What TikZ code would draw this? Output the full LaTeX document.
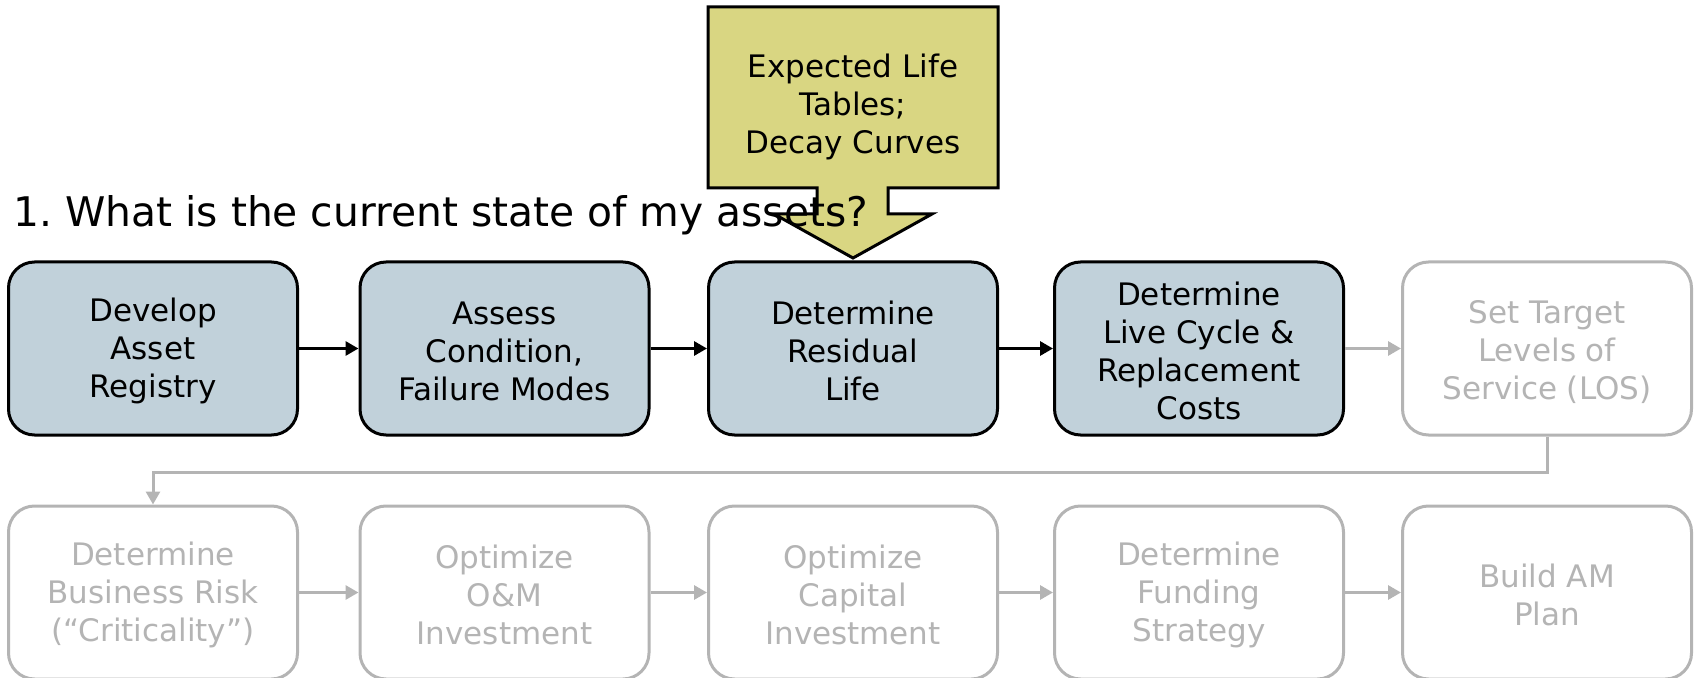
\documentclass[tikz,border=0pt]{standalone}
\usepackage{fontspec}
\setmainfont{DejaVu Sans}
\usetikzlibrary{arrows.meta}
\definecolor{boxfill}{HTML}{C1D1DA}
\definecolor{notefill}{HTML}{D9D682}
\definecolor{faded}{HTML}{B4B4B4}
% strut that lowers a centred multi-line label a little
\newcommand{\lowerstrut}{\rule{0pt}{14.6pt}}
\begin{document}
\begin{tikzpicture}[x=0.5pt,y=-0.5pt,
  basebox/.style={rounded corners=13pt, minimum width=144.5pt, minimum height=86.5pt,
    line width=1.5pt, align=center, inner sep=0pt,
    font=\fontsize{15.5}{19}\selectfont},
  donebox/.style={basebox, draw=black, fill=boxfill, text=black},
  todobox/.style={basebox, draw=faded, fill=white, text=faded},
  blackarrow/.style={line width=1.5pt, draw=black, -{Triangle[length=6.5pt,width=7pt]}},
  grayarrow/.style={line width=1.5pt, draw=faded, -{Triangle[length=6.5pt,width=7pt]}},
  notebox/.style={line width=1.5pt, draw=black, fill=notefill, line join=miter}
]
\useasboundingbox (0,0) rectangle (1696,678);
\clip (0,0) rectangle (1696,678);

% input callout pointing at the residual-life step
\draw[notebox] (708,7) -- (998,7) -- (998,188) -- (888,188) -- (888,214) -- (932,214)
  -- (853,258) -- (774,214) -- (817,214) -- (817,188) -- (708,188) -- cycle;
\node[align=center, font=\fontsize{15.5}{19}\selectfont] (note) at (853,106.5)
  {Expected Life\\Tables;\\Decay Curves};

% question heading
\node[anchor=base west, inner sep=0pt, font=\fontsize{20.4}{24}\selectfont] (title) at (13,227)
  {\frenchspacing 1. What is the current state of my assets?};

% first row: current-state steps
\node[donebox] (b1) at (153,348.5) {\lowerstrut Develop\\Asset\\Registry};
\node[donebox] (b2) at (504.5,348.5) {\lowerstrut Assess\\Condition,\\Failure Modes};
\node[donebox] (b3) at (853,348.5) {\lowerstrut Determine\\Residual\\Life};
\node[donebox] (b4) at (1199,348.5) {\lowerstrut Determine\\Live Cycle \&\\Replacement\\Costs};
\node[todobox] (b5) at (1547,348.5) {\lowerstrut Set Target\\Levels of\\Service (LOS)};

% second row: later steps
\node[todobox] (c1) at (153,592.5) {\lowerstrut Determine\\Business Risk\\(“Criticality”)};
\node[todobox] (c2) at (504.5,592.5) {\lowerstrut Optimize\\O\&M\\Investment};
\node[todobox] (c3) at (853,592.5) {\lowerstrut Optimize\\Capital\\Investment};
\node[todobox] (c4) at (1199,592.5) {\lowerstrut Determine\\Funding\\Strategy};
\node[todobox] (c5) at (1547,592.5) {\lowerstrut Build AM\\Plan};

% connectors
\draw[blackarrow] (b1.east) -- (b2.west);
\draw[blackarrow] (b2.east) -- (b3.west);
\draw[blackarrow] (b3.east) -- (b4.west);
\draw[grayarrow] (b4.east) -- (b5.west);
\draw[grayarrow, line join=miter] (b5.south) -- ++(0,36) -| (c1.north);
\draw[grayarrow] (c1.east) -- (c2.west);
\draw[grayarrow] (c2.east) -- (c3.west);
\draw[grayarrow] (c3.east) -- (c4.west);
\draw[grayarrow] (c4.east) -- (c5.west);
\end{tikzpicture}
\end{document}
